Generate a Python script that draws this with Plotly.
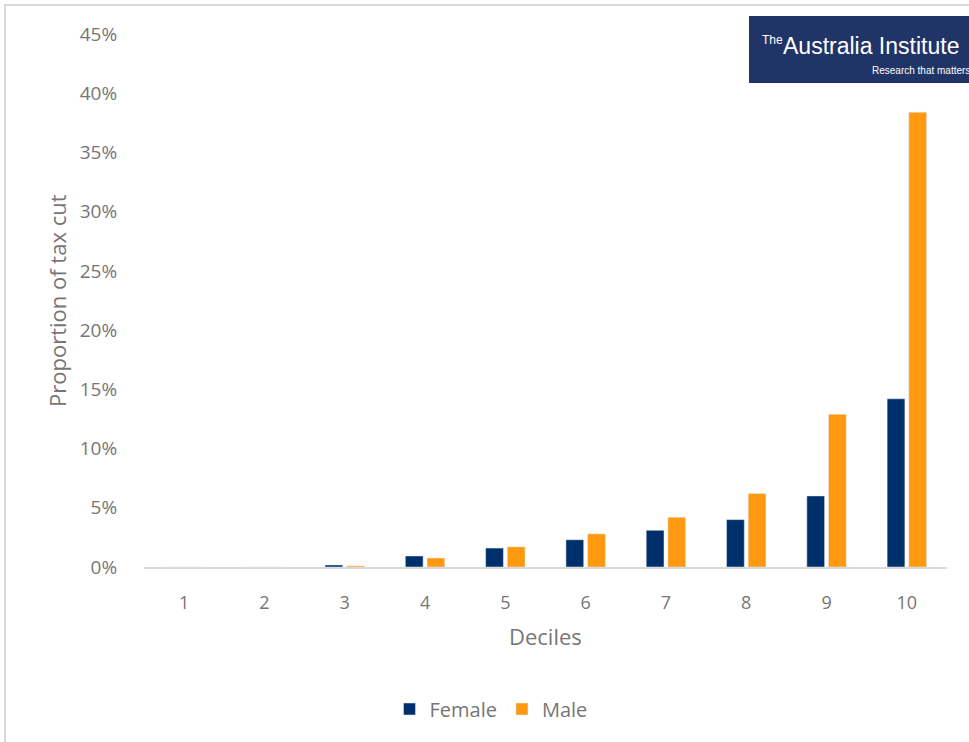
import plotly.graph_objects as go

# Share of the total tax cut received, by income decile and gender
deciles = ["1", "2", "3", "4", "5", "6", "7", "8", "9", "10"]
female = [0.000, 0.000, 0.0017, 0.0093, 0.0160, 0.0230, 0.0310, 0.0400, 0.0600, 0.1420]
male = [0.000, 0.000, 0.0010, 0.0076, 0.0170, 0.0280, 0.0420, 0.0620, 0.1290, 0.3840]
y_ticks = [0, 0.05, 0.10, 0.15, 0.20, 0.25, 0.30, 0.35, 0.40, 0.45]

W, H = 969, 742
ML, MR, MT, MB = 144, 22, 34, 175
PW, PH = W - ML - MR, H - MT - MB

def px_x(x):
    return (x - ML) / PW

def px_y(y):
    return (H - MB - y) / PH

GREY = "#767676"
FONT = "Open Sans, Liberation Sans, sans-serif"
LOGO_FONT = "Liberation Sans, Arial, sans-serif"

fig = go.Figure()
fig.add_trace(go.Bar(name="Female", x=deciles, y=female, marker_color="#00306b"))
fig.add_trace(go.Bar(name="Male", x=deciles, y=male, marker_color="#ff9910"))

fig.update_layout(
    width=W, height=H,
    margin=dict(l=ML, r=MR, t=MT, b=MB),
    paper_bgcolor="white", plot_bgcolor="white",
    barmode="group", bargap=0.46, bargroupgap=0.18,
    font=dict(family=FONT, color=GREY, size=18),
    showlegend=True,
    legend=dict(orientation="h", x=px_x(491), xanchor="center",
                y=px_y(709), yanchor="middle",
                font=dict(size=20, color=GREY), itemwidth=30),
    xaxis=dict(showline=True, linecolor="#d9d9d9", linewidth=2,
               ticks="outside", ticklen=18, tickcolor="rgba(0,0,0,0)",
               tickfont=dict(size=18, color=GREY), showgrid=False),
    yaxis=dict(range=[0, 0.45], tickvals=y_ticks, tickformat=".0%",
               showgrid=False, zeroline=False, showline=False,
               ticks="outside", ticklen=22, tickcolor="rgba(0,0,0,0)",
               tickfont=dict(size=19, color=GREY)),
)

# Axis titles
fig.add_annotation(text="Deciles", xref="paper", yref="paper",
                   x=px_x(545), y=px_y(636), showarrow=False,
                   xanchor="center", yanchor="middle",
                   font=dict(size=22, color=GREY))
fig.add_annotation(text="Proportion of tax cut", xref="paper", yref="paper",
                   x=px_x(57), y=px_y(301), showarrow=False, textangle=-90,
                   xanchor="center", yanchor="middle",
                   font=dict(size=22, color=GREY))

# Outer chart border
fig.add_shape(type="rect", xref="paper", yref="paper",
              x0=px_x(5), x1=px_x(980), y0=px_y(755), y1=px_y(5),
              line=dict(color="#d9d9d9", width=2), fillcolor="rgba(0,0,0,0)")

# Institute logo block
fig.add_shape(type="rect", xref="paper", yref="paper",
              x0=px_x(749), x1=px_x(975), y0=px_y(83), y1=px_y(16),
              line=dict(width=0), fillcolor="#213467")
fig.add_annotation(text="The", xref="paper", yref="paper",
                   x=px_x(760), y=px_y(40), showarrow=False,
                   xanchor="left", yanchor="middle",
                   font=dict(size=12, color="white", family=LOGO_FONT))
fig.add_annotation(text="Australia Institute", xref="paper", yref="paper",
                   x=px_x(781), y=px_y(46), showarrow=False,
                   xanchor="left", yanchor="middle",
                   font=dict(size=23, color="white", family=LOGO_FONT))
fig.add_annotation(text="Research that matters", xref="paper", yref="paper",
                   x=px_x(870), y=px_y(71), showarrow=False,
                   xanchor="left", yanchor="middle",
                   font=dict(size=10, color="white", family=LOGO_FONT))

fig.write_html("out.html")
